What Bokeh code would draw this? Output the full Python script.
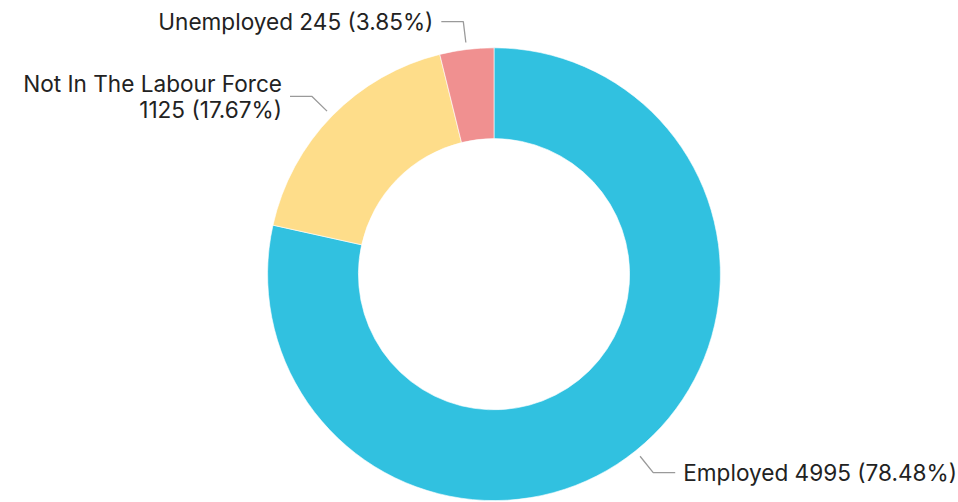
import math
from bokeh.plotting import figure
from bokeh.models import Range1d, ColumnDataSource
from bokeh.embed import file_html
from bokeh.resources import INLINE
from bokeh.core.properties import value

categories = ["Employed", "Not In The Labour Force", "Unemployed"]
counts = [4995, 1125, 245]
colors = ["#31C1E0", "#FEDD8A", "#F09090"]
label_texts = ["Employed 4995 (78.48%)", "Not In The Labour Force\n1125 (17.67%)", "Unemployed 245 (3.85%)"]

W, H = 958, 502
p = figure(width=W, height=H, output_backend="svg", toolbar_location=None,
           x_range=Range1d(0, W), y_range=Range1d(0, H), min_border=0)
p.axis.visible = False
p.grid.visible = False
p.outline_line_color = None
p.background_fill_color = "white"
p.border_fill_color = "white"

cx, cy = 493.5, H - 273.7
R, r = 226.4, 135.6

total = sum(counts)
starts, ends, mids = [], [], []
cum = 0.0
for c in counts:
    f0 = cum / total
    cum += c
    f1 = cum / total
    starts.append(math.pi / 2 - f0 * 2 * math.pi)
    ends.append(math.pi / 2 - f1 * 2 * math.pi)
    mids.append(math.pi / 2 - (f0 + f1) / 2 * 2 * math.pi)

src = ColumnDataSource(dict(x=[cx] * 3, y=[cy] * 3, s=starts, e=ends, c=colors))
p.annular_wedge(x="x", y="y", inner_radius=r, outer_radius=R, start_angle="s", end_angle="e",
                direction="clock", fill_color="c", line_color="white", line_width=0.6, source=src)

lx, ly, tx, ty, ta = [], [], [], [], []
for a, t in zip(mids, label_texts):
    x1, y1 = cx + (R + 7) * math.cos(a), cy + (R + 7) * math.sin(a)
    x2, y2 = cx + (R + 28) * math.cos(a), cy + (R + 28) * math.sin(a)
    side = 1 if math.cos(a) >= 0 else -1
    x3 = x2 + side * 22
    lx.append([x1, x2, x3])
    ly.append([y1, y2, y2])
    tx.append(x3 + side * 8)
    ty.append(y2)
    ta.append("left" if side > 0 else "right")

p.multi_line(xs=lx, ys=ly, line_color="#9a9a9a", line_width=1.3)
p.text(x=tx, y=ty, text=label_texts, text_align=ta, text_baseline="middle",
       text_font=value("Inter"), text_font_size="22.6px", text_color="#222222",
       text_line_height=0.94)

open("out.html", "w").write(file_html(p, INLINE))
